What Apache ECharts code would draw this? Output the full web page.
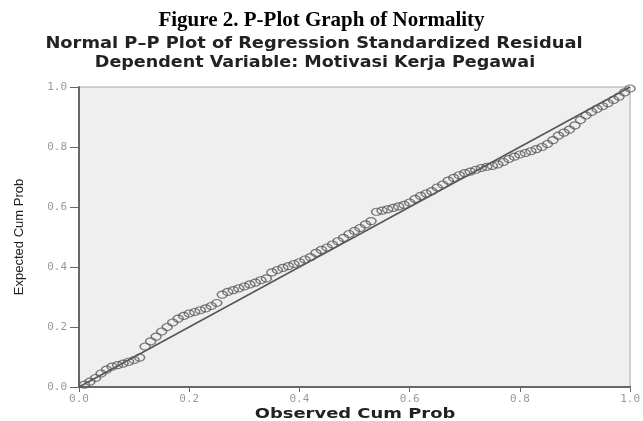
<!DOCTYPE html>
<html>
<head>
<meta charset="utf-8">
<script src="https://cdn.jsdelivr.net/npm/echarts@6/dist/echarts.min.js"></script>
<style>html,body{margin:0;padding:0;background:#fff;}#c{width:643px;height:421px;}</style>
</head>
<body>
<div id="c"></div>
<script>
const figureTitle = "Figure 2. P-Plot Graph of Normality";
const chartTitle = "Normal P\u2013P Plot of Regression Standardized Residual";
const chartSubtitle = "Dependent Variable: Motivasi Kerja Pegawai";
const xAxisName = "Observed Cum Prob";
const yAxisName = "Expected Cum Prob";
const tickValues = [0.0, 0.2, 0.4, 0.6, 0.8, 1.0];

const observedCumProb = [
  0.01,0.02,0.03,0.04,0.05,0.06,0.07,0.08,0.09,0.10,
  0.11,0.12,0.13,0.14,0.15,0.16,0.17,0.18,0.19,0.20,
  0.21,0.22,0.23,0.24,0.25,0.26,0.27,0.28,0.29,0.30,
  0.31,0.32,0.33,0.34,0.35,0.36,0.37,0.38,0.39,0.40,
  0.41,0.42,0.43,0.44,0.45,0.46,0.47,0.48,0.49,0.50,
  0.51,0.52,0.53,0.54,0.55,0.56,0.57,0.58,0.59,0.60,
  0.61,0.62,0.63,0.64,0.65,0.66,0.67,0.68,0.69,0.70,
  0.71,0.72,0.73,0.74,0.75,0.76,0.77,0.78,0.79,0.80,
  0.81,0.82,0.83,0.84,0.85,0.86,0.87,0.88,0.89,0.90,
  0.91,0.92,0.93,0.94,0.95,0.96,0.97,0.98,0.99,1.00
];
const expectedCumProb = [
  0.008,0.018,0.030,0.045,0.058,0.068,0.073,0.078,0.084,0.090,
  0.098,0.135,0.152,0.168,0.185,0.200,0.215,0.228,0.237,0.245,
  0.250,0.256,0.262,0.270,0.280,0.308,0.317,0.323,0.329,0.335,
  0.342,0.348,0.356,0.362,0.382,0.390,0.397,0.403,0.410,0.416,
  0.425,0.433,0.447,0.457,0.465,0.475,0.486,0.497,0.510,0.520,
  0.530,0.542,0.553,0.584,0.588,0.592,0.597,0.602,0.607,0.615,
  0.627,0.637,0.645,0.653,0.665,0.675,0.688,0.697,0.706,0.713,
  0.718,0.724,0.730,0.734,0.737,0.742,0.750,0.760,0.768,0.775,
  0.780,0.786,0.793,0.800,0.810,0.823,0.838,0.848,0.858,0.872,
  0.890,0.905,0.917,0.927,0.936,0.946,0.957,0.968,0.982,0.995
];
const referenceLine = [[0, 0], [1, 1]];

const points = observedCumProb.map((x, i) => [x, expectedCumProb[i]]);

const chart = echarts.init(document.getElementById('c'), null, {renderer: 'canvas'});
chart.setOption({
  animation: false,
  backgroundColor: '#ffffff',
  title: [
    {text: figureTitle, left: 'center', top: 5,
     textStyle: {fontFamily: 'Liberation Serif', fontWeight: 'bold', fontSize: 21, color: '#000'}}
  ],
  graphic: [
    {type: 'text', x: 314, y: 44, scaleX: 1.19, silent: true,
     style: {text: chartTitle, font: 'bold 15px "DejaVu Sans"', fill: '#222', align: 'center', verticalAlign: 'middle'}},
    {type: 'text', x: 315, y: 63, scaleX: 1.17, silent: true,
     style: {text: chartSubtitle, font: 'bold 15px "DejaVu Sans"', fill: '#222', align: 'center', verticalAlign: 'middle'}},
    {type: 'text', x: 355, y: 414, scaleX: 1.28, silent: true,
     style: {text: xAxisName, font: 'bold 14px "DejaVu Sans"', fill: '#222', align: 'center', verticalAlign: 'middle'}}
  ],
  grid: {left: 79, right: 12, top: 87, bottom: 34, show: true,
         backgroundColor: '#efefef', borderColor: '#aaaaaa', borderWidth: 1},
  xAxis: {
    type: 'value', min: 0, max: 1, interval: 0.2,
    axisLine: {show: true, lineStyle: {color: '#666', width: 2}},
    axisTick: {show: true, length: 5, lineStyle: {color: '#666'}},
    axisLabel: {fontFamily: 'DejaVu Sans Mono', fontSize: 11, color: '#999', margin: 7,
                formatter: v => v.toFixed(1)},
    splitLine: {show: false}
  },
  yAxis: {
    type: 'value', min: 0, max: 1, interval: 0.2,
    name: yAxisName, nameLocation: 'middle', nameGap: 53, nameRotate: 90,
    nameTextStyle: {fontFamily: '"Liberation Sans Narrow", "Liberation Sans"', fontSize: 13, color: '#222'},
    axisLine: {show: true, lineStyle: {color: '#666', width: 2}},
    axisTick: {show: true, length: 9, lineStyle: {color: '#666'}},
    axisLabel: {fontFamily: 'DejaVu Sans Mono', fontSize: 11, color: '#999', margin: 12,
                formatter: v => v.toFixed(1)},
    splitLine: {show: false}
  },
  series: [
    {type: 'line', data: referenceLine, symbol: 'none',
     lineStyle: {color: '#555', width: 1.5}, z: 2},
    {type: 'scatter', data: points, symbol: 'circle', symbolSize: [10, 7],
     itemStyle: {color: 'rgba(0,0,0,0)', borderColor: '#5a5a5a', borderWidth: 1.3}, z: 3}
  ]
});
</script>
</body>
</html>
